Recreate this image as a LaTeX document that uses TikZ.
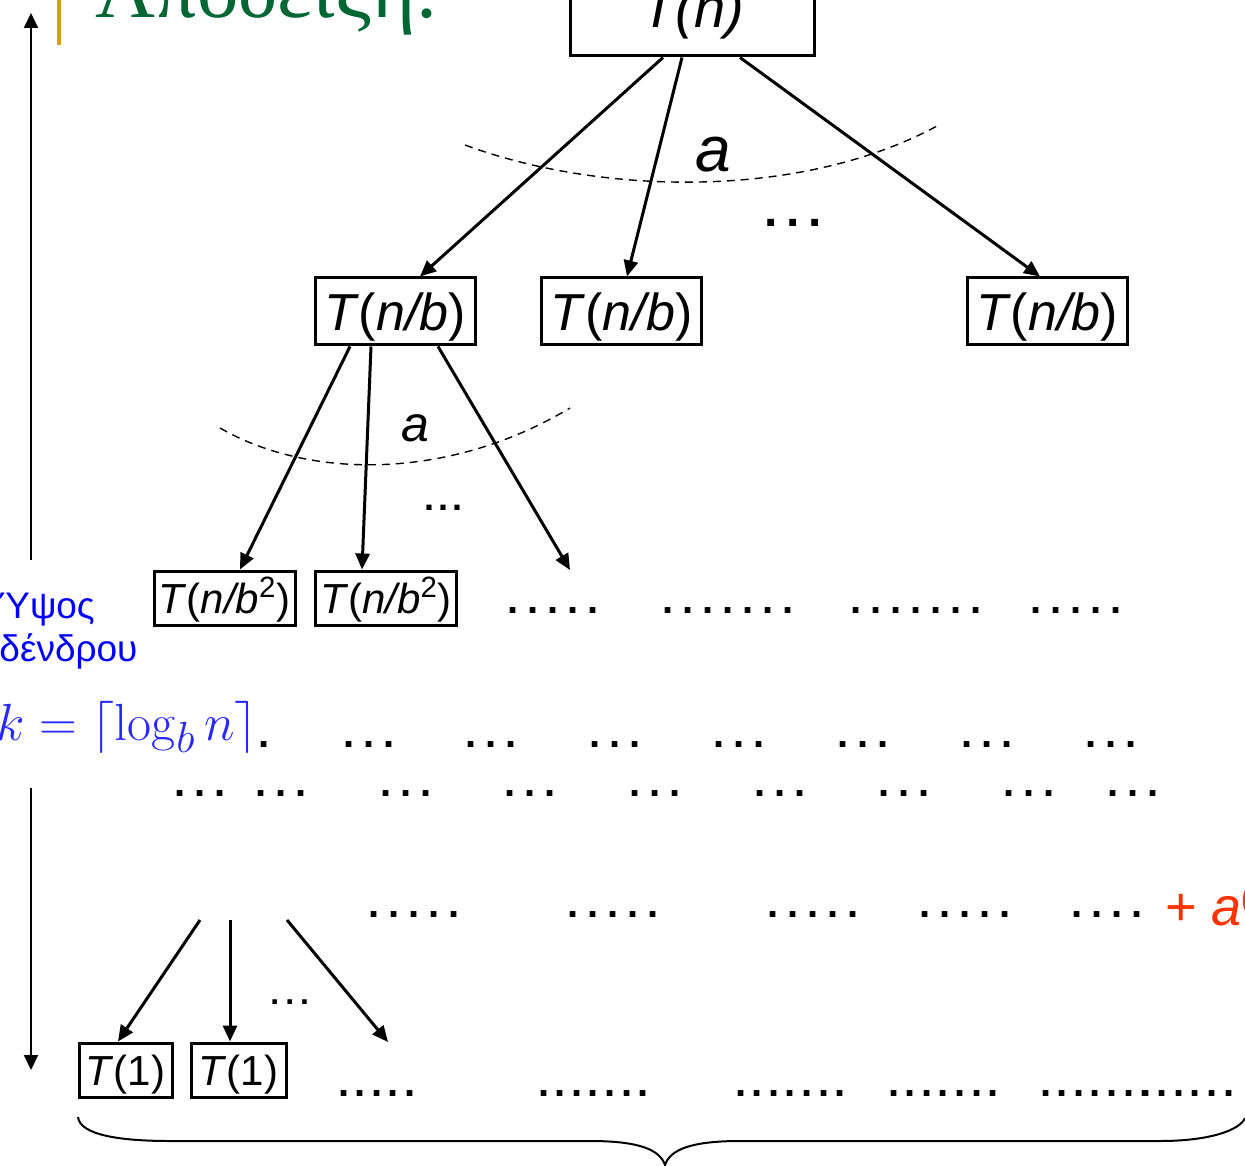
\documentclass[tikz,border=0pt]{standalone}
\usepackage[no-math]{fontspec}
\setmainfont{Liberation Sans}
\newfontfamily\serifgr{Liberation Serif}
\usetikzlibrary{arrows.meta,calc}
\definecolor{titlegreen}{RGB}{0,102,51}
\definecolor{baryellow}{RGB}{217,160,0}
\definecolor{lblue}{RGB}{0,0,255}
\definecolor{fblue}{RGB}{40,40,255}
\definecolor{sumred}{RGB}{255,51,0}
\newcount\dotcnt
\newcommand\dotgroup[2]{\dotcnt=#1\relax\loop.\ifnum\dotcnt>1 \kern#2\advance\dotcnt by -1 \repeat}
\tikzset{
  box/.style={draw, line width=1.5pt, inner sep=0pt},
  bbox/.style={box, minimum width=80pt, minimum height=33.5pt, font=\fontsize{26}{30}\selectfont, text height=23.6pt, text depth=5pt},
  cbox/.style={box, minimum width=70.5pt, minimum height=27pt, font=\fontsize{21}{24}\selectfont, text height=19pt, text depth=4pt},
  obox/.style={box, minimum height=27pt, font=\fontsize{21}{24}\selectfont, text height=19pt, text depth=4pt},
  edge/.style={line width=1.5pt, -{Triangle[length=8pt,width=7pt]}},
  thinarrow/.style={line width=1pt, -{Triangle[length=7.5pt,width=7pt]}},
  dashline/.style={line width=0.7pt, dash pattern=on 4pt off 3pt},
  dotsrow/.style={anchor=base west, inner sep=0pt, font=\fontsize{20}{20}\selectfont\bfseries},
}
\begin{document}
\begin{tikzpicture}[x=0.5pt,y=-0.5pt]
\useasboundingbox (0,0) rectangle (1245,1165);
% title
\node[anchor=base west, inner sep=0pt, text=titlegreen, font=\serifgr\fontsize{41.5}{44}\selectfont] (title) at (95,18) {Απόδειξη:};
\fill[baryellow] (57,-5) rectangle (61,45);
% root
\node[box, minimum width=122pt, minimum height=39pt, font=\fontsize{28}{30}\selectfont\itshape, text height=16pt, text depth=5pt] (tn) at (692.5,17) {T(n)};
% level 1
\node[bbox] (b1) at (395,311.5) {\textit{T}(\textit{n/b})};
\node[bbox] (b2) at (621.5,311.5) {\textit{T}(\textit{n/b})};
\node[bbox] (b3) at (1047,311.5) {\textit{T}(\textit{n/b})};
\draw[edge] ($(tn.south)+(-29.5,0)$) -- ($(b1.north)+(25,0)$);
\draw[edge] ($(tn.south)+(-10.5,0)$) -- ($(b2.north)+(5.5,0)$);
\draw[edge] ($(tn.south)+(47.5,0)$) -- ($(b3.north)+(-7,0)$);
\draw[dashline] (465,145) .. controls (600,195) and (800,200) .. (937,126);
\node[font=\fontsize{32}{36}\selectfont\itshape, inner sep=0pt] (la1) at (713,155) {a};
\node[inner sep=0pt, anchor=base west, font=\fontsize{24}{24}\selectfont\bfseries] (d1) at (764,227) {\dotgroup{3}{4.3pt}};
% level 2
\node[cbox] (c1) at (224.5,598) {\textit{T}(\textit{n/b}\textsuperscript{2})};
\node[cbox] (c2) at (386,598) {\textit{T}(\textit{n/b}\textsuperscript{2})};
\coordinate (e3) at (570,570);
\draw[edge] ($(b1.south)+(-45,0)$) -- ($(c1.north)+(15.5,0)$);
\draw[edge] ($(b1.south)+(-24,0)$) -- ($(c2.north)+(-24,0)$);
\draw[edge] ($(b1.south)+(43,0)$) -- (e3);
\draw[dashline] (220,428) .. controls (310,480) and (450,480) .. (570,408);
\node[font=\fontsize{25}{28}\selectfont\itshape, inner sep=0pt] (la2) at (415,428) {a};
\node[inner sep=0pt, anchor=base west, font=\fontsize{18}{18}\selectfont\bfseries] (d2) at (424,510) {\dotgroup{3}{2pt}};
% rows of dots
\foreach \x/\n [count=\i] in {507/5,662/7,850/7,1030/5}
  \node[dotsrow] (ra\i) at (\x,613) {\dotgroup{\n}{4.44pt}};
\node[dotsrow] (rb0) at (258,747) {.};
\foreach \x [count=\i] in {343,465,589,713,837,961,1085}
  \node[dotsrow] (rb\i) at (\x,747) {\dotgroup{3}{4.44pt}};
\foreach \x [count=\i] in {174,255,380,504,629,754,878,1003,1107}
  \node[dotsrow] (rc\i) at (\x,796) {\dotgroup{3}{4.44pt}};
\foreach \x/\n [count=\i] in {368/5,567/5,767/5,919/5,1071/4}
  \node[dotsrow] (rd\i) at (\x,917) {\dotgroup{\n}{4.44pt}};
\foreach \x/\n [count=\i] in {338/5,538/7,735/7,888/7,1040/7,1140/6}
  \node[dotsrow] (re\i) at (\x,1096) {\dotgroup{\n}{2.7pt}};
\node[anchor=base west, inner sep=0pt, text=sumred, font=\fontsize{27}{30}\selectfont] (sum) at (1165,925) {+ \textit{a}\textsuperscript{\textit{(k}}};
% bottom level
\coordinate (s1) at (200,920);
\coordinate (s2) at (230,920);
\coordinate (s3) at (287,920);
\coordinate (e4) at (388,1042);
\node[obox, minimum width=46.5pt] (t1) at (125.5,1070) {\textit{T}(1)};
\node[obox, minimum width=47.5pt] (t2) at (238.5,1070) {\textit{T}(1)};
\draw[edge] (s1) -- ($(t1.north)+(-7.5,0)$);
\draw[edge] (s2) -- ($(t2.north)+(-8.5,0)$);
\draw[edge] (s3) -- (e4);
\node[inner sep=0pt, anchor=base west, font=\fontsize{16}{16}\selectfont\bfseries] (d3) at (270,1004) {\dotgroup{3}{3pt}};
% left labels
\node[anchor=base west, inner sep=0pt, text=lblue, font=\fontsize{18.5}{22}\selectfont] (h1) at (-2,618) {Ύψος};
\node[anchor=base west, inner sep=0pt, text=lblue, font=\fontsize{18.5}{22}\selectfont] (h2) at (-1,661) {δένδρου};
\node[anchor=base west, inner sep=0pt, text=fblue, font=\fontsize{24.88}{28}\selectfont, scale=1.05] (kf) at (-4,740) {$k=\lceil\log_b n\rceil$};
\coordinate (up1) at (31,560);
\coordinate (up2) at (31,13);
\coordinate (dn1) at (31,788);
\coordinate (dn2) at (31,1070);
\draw[thinarrow] (up1) -- (up2);
\draw[thinarrow] (dn1) -- (dn2);
% brace
\draw[line width=1pt] (78,1117) .. controls (80,1135) and (120,1141) .. (170,1141) -- (590,1141) .. controls (640,1141) and (660,1150) .. (665,1165) .. controls (670,1150) and (690,1141) .. (740,1141) -- (1160,1141) .. controls (1210,1141) and (1240,1130) .. (1245,1118);
\end{tikzpicture}
\end{document}
